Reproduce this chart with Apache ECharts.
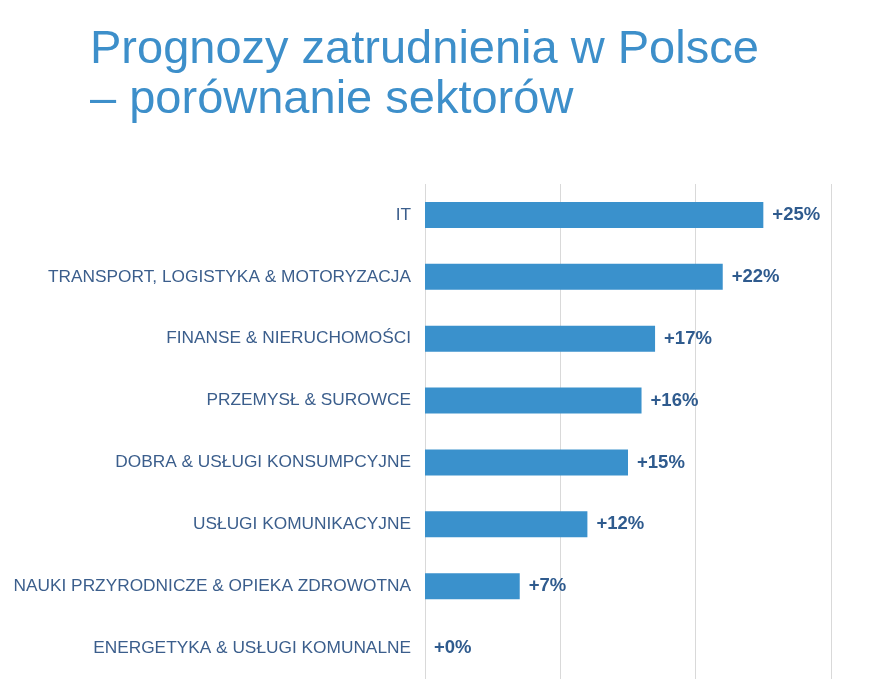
<!DOCTYPE html>
<html>
<head>
<meta charset="utf-8">
<script src="https://cdn.jsdelivr.net/npm/echarts@6/dist/echarts.min.js"></script>
<style>
  html, body { margin: 0; padding: 0; background: #fff; }
  #main { width: 872px; height: 689px; }
</style>
</head>
<body>
<div id="main"></div>
<script>
// dane z wykresu
const sectors = [
  'IT',
  'TRANSPORT, LOGISTYKA & MOTORYZACJA',
  'FINANSE & NIERUCHOMOŚCI',
  'PRZEMYSŁ & SUROWCE',
  'DOBRA & USŁUGI KONSUMPCYJNE',
  'USŁUGI KOMUNIKACYJNE',
  'NAUKI PRZYRODNICZE & OPIEKA ZDROWOTNA',
  'ENERGETYKA & USŁUGI KOMUNALNE'
]
const growth = [25, 22, 17, 16, 15, 12, 7, 0]

const chart = echarts.init(document.getElementById('main'))

chart.setOption({
  animation: false,
  title: {
    text: 'Prognozy zatrudnienia w Polsce\n– porównanie sektorów',
    left: 85,
    top: 20,
    textStyle: {
      fontFamily: 'Liberation Sans',
      fontSize: 47,
      fontWeight: 'normal',
      lineHeight: 50,
      color: '#3d8fca'
    }
  },
  grid: {
    left: 425,
    right: 41,
    top: 184,
    bottom: 10,
    containLabel: false
  },
  xAxis: {
    type: 'value',
    min: 0,
    max: 30,
    interval: 10,
    axisLabel: { show: false },
    axisLine: { show: false },
    axisTick: { show: false },
    splitLine: { lineStyle: { color: '#d9d9d9', width: 1 } }
  },
  yAxis: {
    type: 'category',
    inverse: true,
    data: sectors,
    axisLine: { show: false },
    axisTick: { show: false },
    axisLabel: {
      margin: 14,
      fontFamily: 'Liberation Sans',
      fontSize: 17.3,
      color: '#3b5e8c'
    }
  },
  series: [{
    type: 'bar',
    data: growth,
    barCategoryGap: '58%',
    itemStyle: { color: '#3a91cc' },
    label: {
      show: true,
      position: 'right',
      distance: 9,
      fontFamily: 'Liberation Sans',
      fontSize: 18.5,
      fontWeight: 'bold',
      color: '#2f5b8e',
      formatter: (p) => '+' + p.value + '%'
    }
  }]
})
</script>
</body>
</html>
